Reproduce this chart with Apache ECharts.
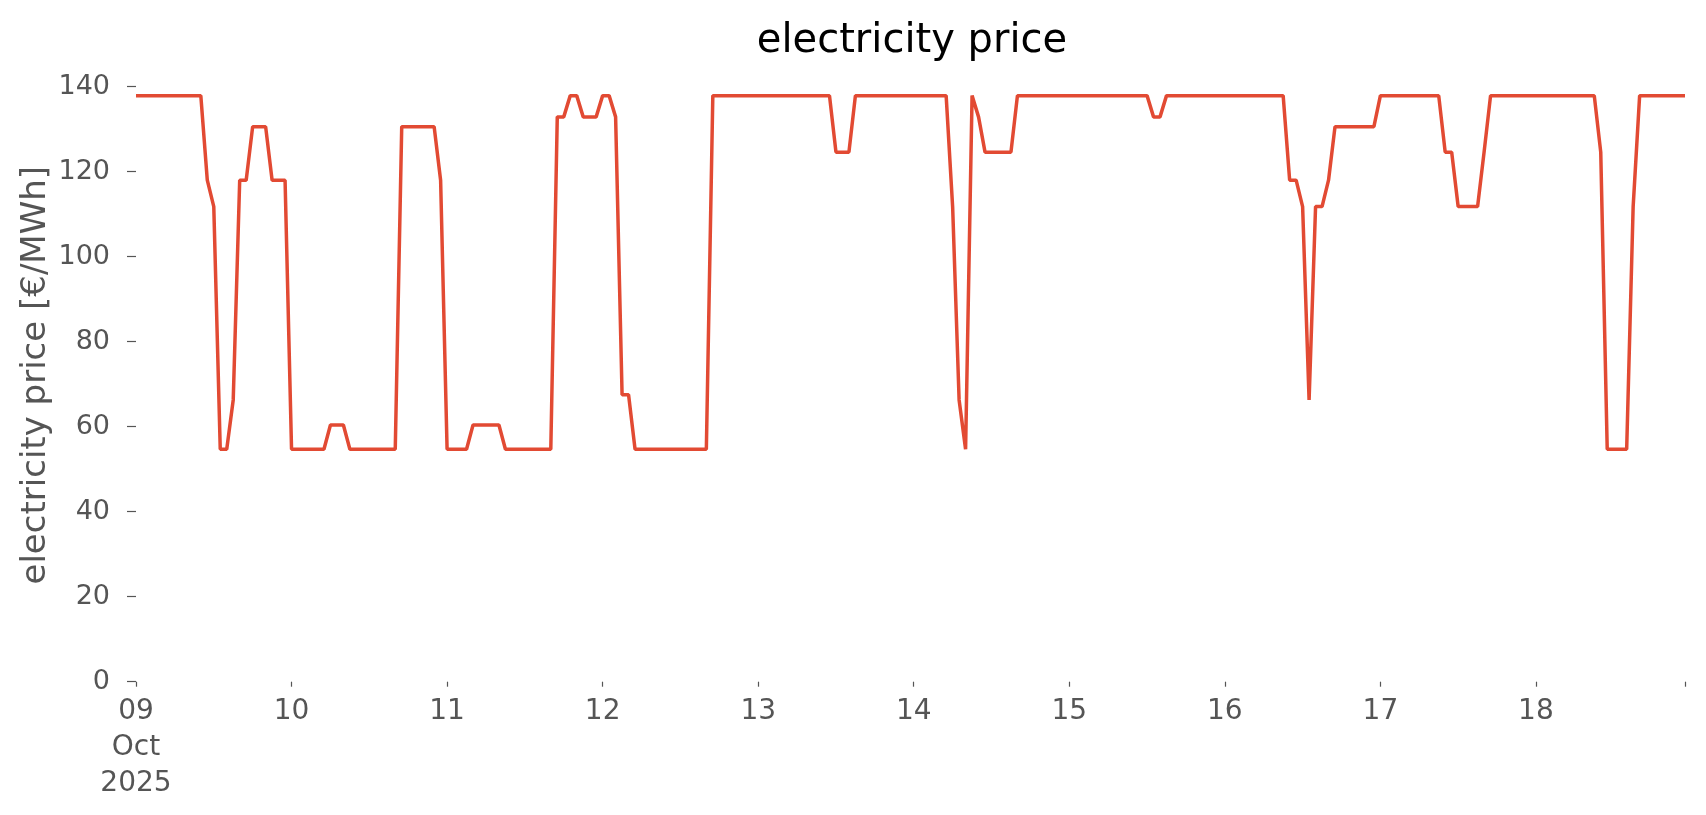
<!DOCTYPE html>
<html>
<head>
<meta charset="utf-8">
<script src="https://cdn.jsdelivr.net/npm/echarts@6/dist/echarts.min.js"></script>
<style>
html,body{margin:0;padding:0;background:#fff;}
#chart{width:1706px;height:815px;}
</style>
</head>
<body>
<div id="chart"></div>
<script>
// Hourly electricity price [€/MWh], one array per day (00:00 .. 23:00)
const dayLabels = ['09\nOct\n2025', '10', '11', '12', '13', '14', '15', '16', '17', '18'];
const oct09 = [137.9,137.9,137.9,137.9,137.9,137.9,137.9,137.9,137.9,137.9,137.9,118,111.8,54.7,54.7,66.3,118,118,130.6,130.6,130.6,118,118,118];
const oct10 = [54.7,54.7,54.7,54.7,54.7,54.7,60.4,60.4,60.4,54.7,54.7,54.7,54.7,54.7,54.7,54.7,54.7,130.6,130.6,130.6,130.6,130.6,130.6,118];
const oct11 = [54.7,54.7,54.7,54.7,60.4,60.4,60.4,60.4,60.4,54.7,54.7,54.7,54.7,54.7,54.7,54.7,54.7,132.9,132.9,137.9,137.9,132.9,132.9,132.9];
const oct12 = [137.9,137.9,132.9,67.5,67.5,54.7,54.7,54.7,54.7,54.7,54.7,54.7,54.7,54.7,54.7,54.7,54.7,137.9,137.9,137.9,137.9,137.9,137.9,137.9];
const oct13 = [137.9,137.9,137.9,137.9,137.9,137.9,137.9,137.9,137.9,137.9,137.9,137.9,124.6,124.6,124.6,137.9,137.9,137.9,137.9,137.9,137.9,137.9,137.9,137.9];
const oct14 = [137.9,137.9,137.9,137.9,137.9,137.9,111.8,66.3,54.7,137.9,132.9,124.6,124.6,124.6,124.6,124.6,137.9,137.9,137.9,137.9,137.9,137.9,137.9,137.9];
const oct15 = [137.9,137.9,137.9,137.9,137.9,137.9,137.9,137.9,137.9,137.9,137.9,137.9,137.9,132.9,132.9,137.9,137.9,137.9,137.9,137.9,137.9,137.9,137.9,137.9];
const oct16 = [137.9,137.9,137.9,137.9,137.9,137.9,137.9,137.9,137.9,137.9,118,118,111.8,66.3,111.8,111.8,118,130.6,130.6,130.6,130.6,130.6,130.6,130.6];
const oct17 = [137.9,137.9,137.9,137.9,137.9,137.9,137.9,137.9,137.9,137.9,124.6,124.6,111.8,111.8,111.8,111.8,124.6,137.9,137.9,137.9,137.9,137.9,137.9,137.9];
const oct18 = [137.9,137.9,137.9,137.9,137.9,137.9,137.9,137.9,137.9,137.9,124.6,54.7,54.7,54.7,54.7,111.8,137.9,137.9,137.9,137.9,137.9,137.9,137.9,137.9];
const yTicks = [0, 20, 40, 60, 80, 100, 120, 140];

const days = [oct09, oct10, oct11, oct12, oct13, oct14, oct15, oct16, oct17, oct18];
const hourly = [].concat(...days);
const seriesData = hourly.map((v, i) => [i, v]);
const lastHour = hourly.length - 1;

const FONT = 'DejaVu Sans';
const chart = echarts.init(document.getElementById('chart'), null, {renderer: 'canvas'});
chart.setOption({
  animation: false,
  backgroundColor: '#ffffff',
  title: {
    text: 'electricity price',
    left: 907,
    top: 17,
    textAlign: 'center',
    textStyle: {fontFamily: FONT, fontSize: 40, fontWeight: 'normal', color: '#000000'}
  },
  grid: {left: 136, right: 21, top: 86.7, bottom: 133.3, containLabel: false, outerBoundsMode: 'none'},
  xAxis: {
    type: 'value',
    min: 0,
    max: lastHour,
    interval: 24,
    axisLine: {show: false},
    splitLine: {show: false},
    axisTick: {show: true, length: 5, lineStyle: {color: '#555555', width: 1.2}},
    axisLabel: {
      show: true,
      showMaxLabel: true,
      showMinLabel: true,
      margin: 12,
      fontFamily: FONT,
      fontSize: 28,
      lineHeight: 36,
      color: '#555555',
      formatter: function (v) {
        if (v % 24 !== 0) return '';
        const d = v / 24;
        return d < dayLabels.length ? dayLabels[d] : '';
      }
    }
  },
  yAxis: {
    type: 'value',
    min: yTicks[0],
    max: yTicks[yTicks.length - 1],
    interval: 20,
    name: 'electricity price [€/MWh]',
    nameLocation: 'middle',
    nameGap: 83,
    nameMoveOverlap: false,
    nameTextStyle: {fontFamily: FONT, fontSize: 34, color: '#555555', padding: [0, 0, 0, 18]},
    axisLine: {show: false},
    splitLine: {show: false},
    axisTick: {show: true, length: 9, lineStyle: {color: '#555555', width: 1.2}},
    axisLabel: {margin: 26, fontFamily: FONT, fontSize: 27, color: '#555555'}
  },
  series: [{
    type: 'line',
    data: seriesData,
    showSymbol: false,
    symbol: 'none',
    lineStyle: {color: '#E24A33', width: 3.5},
    itemStyle: {color: '#E24A33'}
  }]
});
</script>
</body>
</html>
